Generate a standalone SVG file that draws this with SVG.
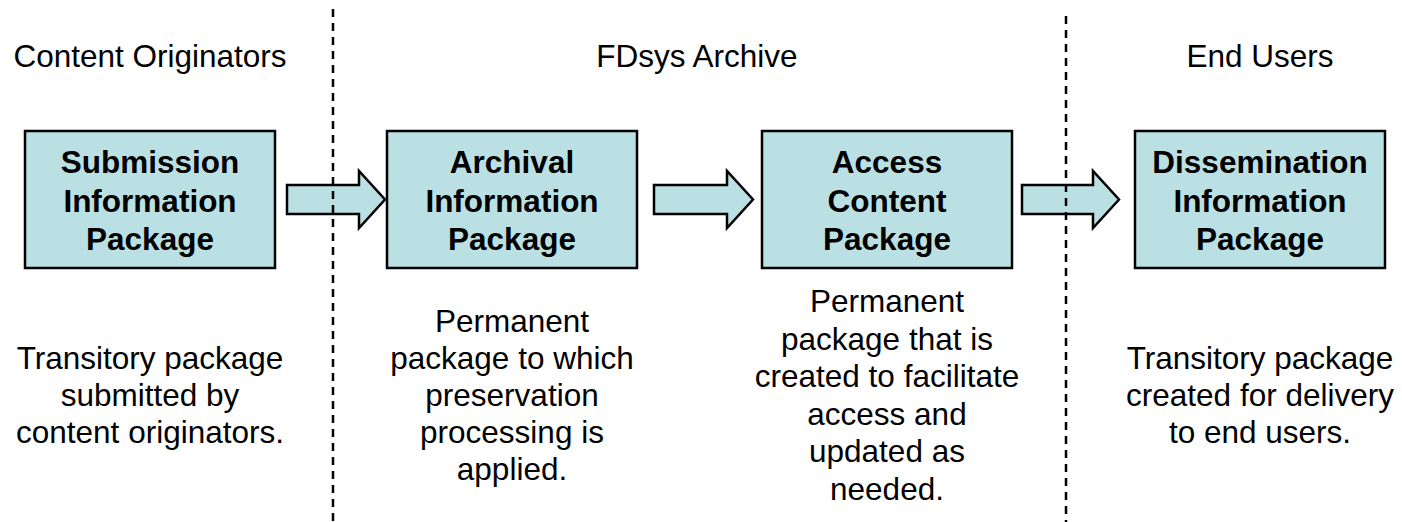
<svg xmlns="http://www.w3.org/2000/svg" width="1402" height="522" viewBox="0 0 1402 522">
<style>
.box{fill:#BBE0E3;stroke:#000;stroke-width:2.5}
.arr{fill:#BBE0E3;stroke:#000;stroke-width:2.5;stroke-linejoin:miter}
.t{font-family:"Liberation Sans",Arial,sans-serif;font-size:31.5px;fill:#000;text-anchor:middle}
.b{font-weight:bold}
.dash{stroke:#000;stroke-width:2.5;stroke-dasharray:8 6;fill:none}
</style>
<rect width="1402" height="522" fill="#fff"/>
<g id="headers">
<text class="t" x="150" y="67">Content Originators</text>
<text class="t" x="697" y="67">FDsys Archive</text>
<text class="t" x="1260" y="67">End Users</text>
</g>
<g id="sip">
<rect class="box" x="25" y="131" width="250" height="137"/>
<text class="t b" x="150" y="173">Submission</text>
<text class="t b" x="150" y="212">Information</text>
<text class="t b" x="150" y="250">Package</text>
<text class="t" x="150" y="369">Transitory package</text>
<text class="t" x="150" y="406">submitted by</text>
<text class="t" x="150" y="443">content originators.</text>
</g>
<g id="aip">
<rect class="box" x="387" y="131" width="250" height="137"/>
<text class="t b" x="512" y="173">Archival</text>
<text class="t b" x="512" y="212">Information</text>
<text class="t b" x="512" y="250">Package</text>
<text class="t" x="512" y="332">Permanent</text>
<text class="t" x="512" y="369">package to which</text>
<text class="t" x="512" y="406">preservation</text>
<text class="t" x="512" y="443">processing is</text>
<text class="t" x="512" y="480">applied.</text>
</g>
<g id="acp">
<rect class="box" x="762" y="131" width="250" height="137"/>
<text class="t b" x="887" y="173">Access</text>
<text class="t b" x="887" y="212">Content</text>
<text class="t b" x="887" y="250">Package</text>
<text class="t" x="887" y="312">Permanent</text>
<text class="t" x="887" y="349.5">package that is</text>
<text class="t" x="887" y="387">created to facilitate</text>
<text class="t" x="887" y="424.5">access and</text>
<text class="t" x="887" y="462">updated as</text>
<text class="t" x="887" y="499.5">needed.</text>
</g>
<g id="dip">
<rect class="box" x="1135" y="131" width="250" height="137"/>
<text class="t b" x="1260" y="173">Dissemination</text>
<text class="t b" x="1260" y="212">Information</text>
<text class="t b" x="1260" y="250">Package</text>
<text class="t" x="1260" y="369">Transitory package</text>
<text class="t" x="1260" y="406">created for delivery</text>
<text class="t" x="1260" y="443">to end users.</text>
</g>
<g id="connectors">
<polygon class="arr" points="287,185 359,185 359,171 385,199.5 359,228 359,214 287,214"/>
<polygon class="arr" points="654,185 727,185 727,171 753,199.5 727,228 727,214 654,214"/>
<polygon class="arr" points="1022,185 1093,185 1093,171 1119,199.5 1093,228 1093,214 1022,214"/>
</g>
<g id="dividers">
<line class="dash" x1="333" y1="9" x2="333" y2="522"/>
<line class="dash" x1="1066" y1="16" x2="1066" y2="522"/>
</g>
</svg>
